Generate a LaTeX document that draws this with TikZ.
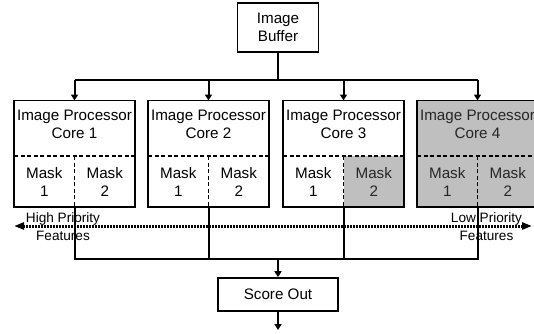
\documentclass[tikz,border=0pt]{standalone}
\usepackage{fontspec}
\setmainfont{Liberation Sans}
\usetikzlibrary{arrows.meta}
\definecolor{shade}{gray}{0.75}
\begin{document}
\begin{tikzpicture}[x=1pt,y=-1pt,
  boxline/.style={draw, line width=1.6pt},
  txt/.style={font=\fontsize{15.2}{18}\selectfont, align=center, inner sep=0pt},
  lab/.style={font=\fontsize{13.6}{18}\selectfont, align=center, inner sep=0pt},
  wire/.style={line width=2pt},
  arr/.style={wire, -{Triangle[length=6pt,width=7pt]}},
  split/.style={line width=1.7pt, dash pattern=on 4pt off 2.5pt},
  coreshape/.style={inner sep=0pt, minimum width=121pt, minimum height=106.3pt},
  cell/.style={inner sep=0pt, minimum width=60.5pt, minimum height=51pt}]
\useasboundingbox (0,0) rectangle (534,333);
\clip (0,0) rectangle (534,333);

% image buffer
\node[boxline, txt, minimum width=81pt, minimum height=49pt] (buf) at (278,27.5) {Image\\Buffer};

% the four processor cores
\foreach \i/\L/\c/\tc in {1/14/white/black, 2/148/white/black, 3/283/white/black, 4/417/shade/black!85} {
  \node[coreshape, fill=\c] (core\i) at (\L+60.5,153.85) {};
  \node[txt, text=\tc] (head\i) at (\L+60.5,124) {Image Processor\\Core \i};
}
% shaded second mask of core 3
\node[cell, fill=shade] (m3b) at (373.75,181.5) {};

\foreach \i/\L/\tc/\td in {1/14/black/black, 2/148/black/black, 3/283/black/black!85, 4/417/black!85/black!85} {
  \node[txt, text=\tc] (m\i a) at (\L+30.25,181.5) {Mask\\1};
  \node[txt, text=\td] (m\i b) at (\L+90.75,181.5) {Mask\\2};
  \draw[split] (\L,156) -- (\L+121,156);
  \draw[split] (\L+60.5,156) -- (core\i.south);
  \draw[boxline] (core\i.north west) rectangle (core\i.south east);
}

% distribution from the buffer
\coordinate (fork) at (278,80);
\draw[wire] (buf.south) -- (fork);
\draw[wire] (core1.north |- fork) -- (core4.north |- fork);
\foreach \i in {1,...,4} \draw[arr] (core\i.north |- fork) -- (core\i.north);

% score output
\node[boxline, txt, minimum width=120pt, minimum height=33pt] (score) at (278,294.5) {Score Out};
\coordinate (join) at (278,259);
\draw[wire] (core1.south) -- (core1.south |- join) -- (core4.south |- join) -- (core4.south);
\draw[wire] (core2.south) -- (core2.south |- join);
\draw[wire] (core3.south) -- (core3.south |- join);
\draw[arr] (join) -- (score.north);
\coordinate (out) at (278,330);
\draw[arr] (score.south) -- (out);

% feature priority axis
\coordinate (hi) at (14,226);
\coordinate (lo) at (532,226);
\draw[line width=3pt, dash pattern=on 2pt off 1pt,
  {Triangle[length=10pt,width=7pt]}-{Triangle[length=10pt,width=7pt]}] (hi) -- (lo);
\node[lab] (hp) at (63,226.5) {High Priority\\Features};
\node[lab] (lp) at (486.5,226.5) {Low Priority\\Features};
\end{tikzpicture}
\end{document}
